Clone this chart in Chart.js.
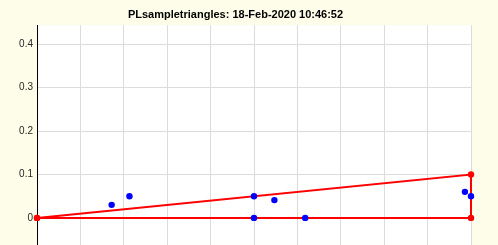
<!doctype html>
<html lang="en">
  <head>
    <meta charset="utf-8">
    <title>PLsampletriangles</title>
    <style>
      * { margin: 0; padding: 0; }
      body { background: #fdfde9; overflow: hidden; }
      .chartBox { width: 498px; height: 248px; }
    </style>
  </head>
  <body>
    <div class="chartBox">
      <canvas id="myChart"></canvas>
    </div>
    <script src="https://cdn.jsdelivr.net/npm/chart.js/dist/chart.umd.min.js"></script>
    <script>
    // data
    const triX = [0, 1, 1, 0];
    const triY = [0, 0.1, 0, 0];
    const ptX = [0.172, 0.213, 0.5, 0.5, 0.547, 0.618, 0.986, 1.0];
    const ptY = [0.03, 0.05, 0.05, 0, 0.041, 0, 0.06, 0.05];
    const yTicks = [0, 0.1, 0.2, 0.3, 0.4];
    const xTicks = [0, 0.1, 0.2, 0.3, 0.4, 0.5, 0.6, 0.7, 0.8, 0.9, 1];
    const titleText = 'PLsampletriangles: 18-Feb-2020 10:46:52';

    const toXY = (xs, ys) => xs.map((x, i) => ({ x: x, y: ys[i] }));

    // white plot area on the cream figure
    const plotBg = {
      id: 'plotBg',
      beforeDraw(chart) {
        const { ctx, chartArea: a } = chart;
        ctx.save();
        ctx.fillStyle = '#ffffff';
        ctx.fillRect(a.left, a.top, a.right - a.left, a.bottom - a.top);
        ctx.restore();
      }
    };

    const data = {
      datasets: [{
        label: 'points',
        data: toXY(ptX, ptY),
        backgroundColor: '#0000ff',
        borderColor: '#0000ff',
        pointRadius: 3.2,
        pointBorderWidth: 0,
        pointHoverRadius: 3.2,
        showLine: false,
        clip: false
      }, {
        label: 'triangle',
        data: toXY(triX, triY),
        backgroundColor: '#ff0000',
        borderColor: '#ff0000',
        borderWidth: 2,
        pointRadius: 3.2,
        pointBorderWidth: 0,
        pointHoverRadius: 3.2,
        showLine: true,
        tension: 0,
        clip: false
      }]
    };

    const config = {
      type: 'scatter',
      data,
      plugins: [plotBg],
      options: {
        responsive: true,
        maintainAspectRatio: false,
        animation: false,
        // canvas is a bit taller than the window so the plot runs off the bottom edge
        layout: { padding: { left: 0, right: 27, top: 0, bottom: -5 } },
        plugins: {
          legend: { display: false },
          tooltip: { enabled: false },
          title: {
            display: true,
            text: titleText,
            color: '#000000',
            font: { family: 'Liberation Sans, Arial, sans-serif', size: 11, weight: 'bold' },
            padding: { top: 8, bottom: 4 }
          }
        },
        scales: {
          x: {
            type: 'linear',
            min: 0,
            max: 1,
            afterBuildTicks: (s) => { s.ticks = xTicks.map(v => ({ value: v })); },
            afterFit: (s) => { s.height = 0; s.paddingLeft = 0; s.paddingRight = 0; },
            ticks: { display: false },
            grid: { color: '#dcdcdc', drawTicks: false, lineWidth: 1 },
            border: { display: false }
          },
          y: {
            min: -0.062,
            max: 0.444,
            afterBuildTicks: (s) => { s.ticks = yTicks.map(v => ({ value: v })); },
            afterFit: (s) => { s.width = 37; s.paddingTop = 0; s.paddingBottom = 0; },
            ticks: {
              color: '#262626',
              padding: 4,
              font: { family: 'Liberation Sans, Arial, sans-serif', size: 10 },
              callback: (v) => String(Math.round(v * 10) / 10)
            },
            grid: { color: '#dcdcdc', drawTicks: false, lineWidth: 1 },
            border: { display: true, color: '#000000', width: 1 }
          }
        }
      }
    };

    new Chart(document.getElementById('myChart'), config);
    </script>
  </body>
</html>
